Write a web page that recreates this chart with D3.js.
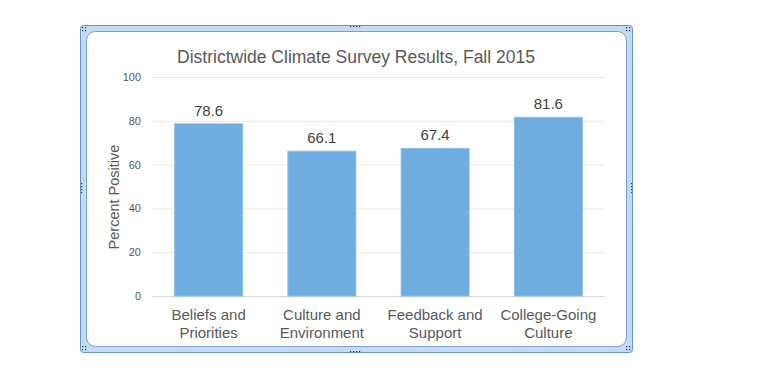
<!DOCTYPE html>
<html><head><meta charset="utf-8">
<script src="https://cdn.jsdelivr.net/npm/d3@7"></script>
<style>body{margin:0;background:#fff;}svg{display:block;font-family:"Liberation Sans",Arial,sans-serif;}</style>
</head><body>
<svg id="c" width="758" height="390"></svg>
<script>
const categories = [["Beliefs and","Priorities"],["Culture and","Environment"],["Feedback and","Support"],["College-Going","Culture"]];
const values = [78.6, 66.1, 67.4, 81.6];
const yTicks = [0, 20, 40, 60, 80, 100];
const title = "Districtwide Climate Survey Results, Fall 2015";
const yLabel = "Percent Positive";

const svg = d3.select("#c");
// frame
svg.append("rect").attr("x",80.5).attr("y",25.5).attr("width",552).attr("height",327)
  .attr("rx",3).attr("fill","#c5daf3").attr("stroke","#6893d0");
svg.append("rect").attr("x",86.5).attr("y",31.5).attr("width",540).attr("height",315)
  .attr("rx",9).attr("fill","#fff").attr("stroke","#7aa0d7");
// handle dots
function dots(x,y,nx,ny){for(let i=0;i<nx;i++)for(let j=0;j<ny;j++)svg.append("rect").attr("x",x+i*3).attr("y",y+j*3).attr("width",1.2).attr("height",1.2).attr("fill","#333");}
dots(82,27,2,2); dots(626,27,2,2); dots(82,346,2,2); dots(626,346,2,2);
dots(350,26,4,1); dots(350,351,4,1); dots(81,183,1,4); dots(631,183,1,4);

const x = d3.scaleBand().domain(d3.range(values.length)).range([152,605]).paddingInner(0.4).paddingOuter(0.2);
const y = d3.scaleLinear().domain([0,100]).range([296,77]);

const g = svg.append("g");
g.selectAll("line.grid").data(yTicks).join("line")
  .attr("x1",152).attr("x2",605).attr("y1",d=>y(d)+0.5).attr("y2",d=>y(d)+0.5)
  .attr("stroke",d=>d===0?"#d9d9d9":"#e8e8e8").attr("stroke-width",1);

const yAxis = d3.axisLeft(y).tickValues(yTicks).tickSize(0).tickPadding(0);
const ya = svg.append("g").attr("transform","translate(141,0)").call(yAxis);
ya.select(".domain").remove();
ya.attr("fill","#595959");
ya.selectAll("text").attr("fill","#595959").attr("font-size","11px").attr("font-family","Liberation Sans, Arial, sans-serif");

g.selectAll("rect.bar").data(values).join("rect").attr("class","bar")
  .attr("x",(d,i)=>x(i)).attr("width",x.bandwidth())
  .attr("y",d=>y(d)).attr("height",d=>y(0)-y(d))
  .attr("fill","#6face0").attr("stroke","#8dbde6").attr("stroke-width",1);

g.selectAll("text.val").data(values).join("text")
  .attr("x",(d,i)=>x(i)+x.bandwidth()/2).attr("y",d=>y(d)-8)
  .attr("text-anchor","middle").attr("font-size","15px").attr("fill","#404040")
  .text(d=>d.toFixed(1));

const xa = svg.append("g");
categories.forEach((c,i)=>{
  const t = xa.append("text").attr("text-anchor","middle").attr("font-size","15px").attr("fill","#595959");
  c.forEach((line,k)=>t.append("tspan").attr("x",x(i)+x.bandwidth()/2).attr("y",320+k*18).text(line));
});

svg.append("text").attr("x",356).attr("y",63).attr("text-anchor","middle")
  .attr("font-size","17.5px").attr("fill","#595959").text(title);

svg.append("text").attr("transform","translate(119,197) rotate(-90)").attr("text-anchor","middle")
  .attr("font-size","14.5px").attr("fill","#595959").text(yLabel);
</script>
</body></html>
